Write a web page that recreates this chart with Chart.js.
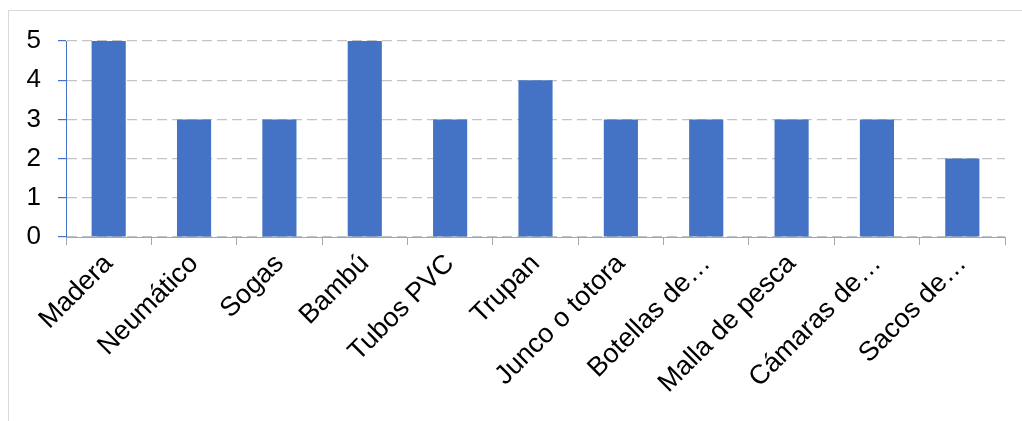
<!DOCTYPE html>
<html>
<head>
<meta charset="utf-8">
<script src="https://cdn.jsdelivr.net/npm/chart.js@4/dist/chart.umd.min.js"></script>
<style>
    html, body { margin: 0; padding: 0; background: #fff; overflow: hidden; }
    #frame { position: absolute; left: 8px; top: 10px; width: 1100px; height: 500px; border: 1px solid #d9d9d9; }
    #wrap { position: absolute; left: 0; top: 0; width: 1022px; height: 421px; }
</style>
</head>
<body>
<div id="frame"></div>
<div id="wrap"><canvas id="materialsChart"></canvas></div>
<script>
// Materiales y cantidad
const categories = ['Madera', 'Neumático', 'Sogas', 'Bambú', 'Tubos PVC', 'Trupan', 'Junco o totora', 'Botellas de…', 'Malla de pesca', 'Cámaras de…', 'Sacos de…'];
const counts = [5, 3, 3, 5, 3, 4, 3, 3, 3, 3, 2];
const yTicks = [0, 1, 2, 3, 4, 5];

const barColor = '#4472C4';
const fontFamily = '"Liberation Sans", Arial, sans-serif';

const ctx = document.getElementById('materialsChart').getContext('2d');

new Chart(ctx, {
    type: 'bar',
    data: {
        labels: categories,
        datasets: [{
            data: counts,
            backgroundColor: barColor,
            borderWidth: 0,
            barPercentage: 0.4,
            categoryPercentage: 1
        }]
    },
    options: {
        responsive: true,
        maintainAspectRatio: false,
        animation: false,
        layout: {
            padding: { top: 41, right: 17, bottom: 0, left: 0 }
        },
        plugins: {
            legend: { display: false },
            tooltip: { enabled: false }
        },
        scales: {
            x: {
                grid: {
                    drawOnChartArea: false,
                    offset: true,
                    tickLength: 8,
                    tickColor: '#a6a6a6',
                    tickWidth: 1
                },
                border: { color: '#a6a6a6', width: 1 },
                ticks: {
                    color: '#000',
                    font: { family: fontFamily, size: 27 },
                    minRotation: 45,
                    maxRotation: 45,
                    autoSkip: false,
                    padding: 3
                },
                afterFit: function(axis) {
                    axis.height = 184;
                }
            },
            y: {
                min: 0,
                max: 5,
                afterBuildTicks: function(axis) {
                    axis.ticks = yTicks.map(v => ({ value: v }));
                },
                grid: {
                    color: '#c3c3c3',
                    lineWidth: 1.2,
                    tickLength: 8,
                    tickColor: barColor,
                    tickBorderDash: []
                },
                border: { color: barColor, width: 1, dash: [10, 5] },
                ticks: {
                    color: '#000',
                    font: { family: fontFamily, size: 26 },
                    padding: 17
                },
                afterFit: function(axis) {
                    axis.width = 66;
                }
            }
        }
    }
});
</script>
</body>
</html>
